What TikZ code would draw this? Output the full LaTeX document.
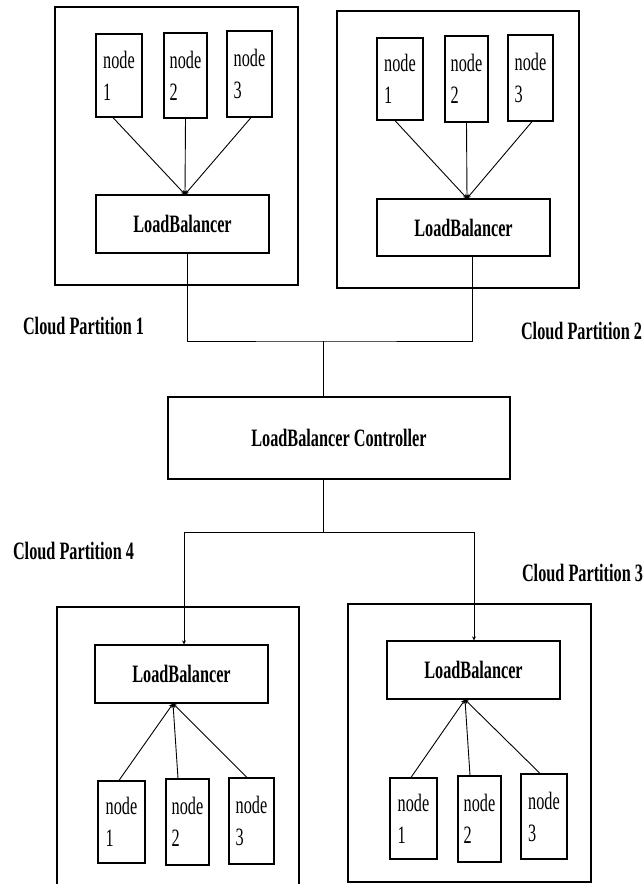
\documentclass[tikz,border=0pt]{standalone}
\usepackage{fontspec}
\setmainfont{Liberation Serif}[FakeStretch=0.65]
\usetikzlibrary{arrows.meta}
\tikzset{
  part/.style={draw, line width=1.2pt, inner sep=0pt},
  srv/.style={draw, line width=1.2pt, inner sep=0pt, align=left, font=\fontsize{25}{32}\selectfont},
  lbbox/.style={draw, line width=1.2pt, inner sep=0pt, font=\bfseries\fontsize{25}{28}\selectfont},
  lbl/.style={font=\bfseries\fontsize{25}{28}\selectfont, inner sep=0pt},
  wire/.style={line width=0.9pt},
  link/.style={wire, -{Stealth[length=4pt,width=4pt]}},
}
\begin{document}
\begin{tikzpicture}[x=1pt, y=-1pt]
	\useasboundingbox (0,0) rectangle (644,884);
	
	% partitions
	\node[part, minimum width=243, minimum height=278] (pA) at (176.5,146) {};
	\node[part, minimum width=242, minimum height=277] (pB) at (458,149.5) {};
	\node[part, minimum width=242, minimum height=286] (pC) at (178,750) {};
	\node[part, minimum width=243, minimum height=278] (pD) at (469.5,743) {};
	
	% partition 1
	\node[srv, minimum width=46, minimum height=83] (nA1) at (119,75.5) {node\\1};
	\node[srv, minimum width=43, minimum height=85] (nA2) at (185.5,75.5) {node\\2};
	\node[srv, minimum width=45, minimum height=86] (nA3) at (249.5,74) {node\\3};
	\node[lbbox, minimum width=173, minimum height=58] (lbA) at (182.5,224) {LoadBalancer};
	
	% partition 2
	\node[srv, minimum width=46, minimum height=82] (nB1) at (400,79) {node\\1};
	\node[srv, minimum width=43, minimum height=86] (nB2) at (466.5,79) {node\\2};
	\node[srv, minimum width=45, minimum height=86] (nB3) at (530.5,78) {node\\3};
	\node[lbbox, minimum width=173, minimum height=57] (lbB) at (463.5,227.5) {LoadBalancer};
	
	% partition 4
	\node[lbbox, minimum width=173, minimum height=58] (lbC) at (181.5,674) {LoadBalancer};
	\node[srv, minimum width=47, minimum height=82] (nC1) at (121.5,822) {node\\1};
	\node[srv, minimum width=43, minimum height=86] (nC2) at (187.5,822) {node\\2};
	\node[srv, minimum width=45, minimum height=86] (nC3) at (251.5,821) {node\\3};
	
	% partition 3
	\node[lbbox, minimum width=173, minimum height=58] (lbD) at (473.5,670) {LoadBalancer};
	\node[srv, minimum width=47, minimum height=81] (nD1) at (413.5,818.5) {node\\1};
	\node[srv, minimum width=43, minimum height=86] (nD2) at (479.5,819) {node\\2};
	\node[srv, minimum width=46, minimum height=85] (nD3) at (544,816.5) {node\\3};
	
	\node[lbbox, minimum width=342, minimum height=82] (ctrl) at (339,438) {LoadBalancer Controller};
	
	\node[lbl] (cp1) at (83.5,326) {Cloud Partition 1};
	\node[lbl] (cp2) at (581.5,331) {Cloud Partition 2};
	\node[lbl] (cp4) at (73.5,551) {Cloud Partition 4};
	\node[lbl] (cp3) at (582.5,573) {Cloud Partition 3};
	
	% hubs
	\coordinate (hubA) at ([xshift=2.5pt]lbA.north);
	\coordinate (hubB) at ([xshift=3.5pt]lbB.north);
	\coordinate (hubC) at ([xshift=-8.5pt]lbC.south);
	\coordinate (hubD) at ([xshift=-8.5pt]lbD.south);
	\coordinate (jTop) at (323,341);
	\coordinate (jBot) at (323,532);
	
	\draw[link] ([xshift=-6pt]nA1.south) -- (hubA);
	\draw[link] (nA2.south) -- (hubA);
	\draw[link] ([xshift=1.5pt]nA3.south) -- (hubA);
	
	\draw[link] ([xshift=-5pt]nB1.south) -- (hubB);
	\draw[link] (nB2.south) -- (hubB);
	\draw[link] ([xshift=1.5pt]nB3.south) -- (hubB);
	
	\draw[link] ([xshift=-2.5pt]nC1.north) -- (hubC);
	\draw[link] ([xshift=-9.5pt]nC2.north) -- (hubC);
	\draw[link] ([xshift=-4.5pt]nC3.north) -- (hubC);
	
	\draw[link] ([xshift=-2.5pt]nD1.north) -- (hubD);
	\draw[link] ([xshift=-9.5pt]nD2.north) -- (hubD);
	\draw[link] ([xshift=-4pt]nD3.north) -- (hubD);
	
	\draw[wire] ([xshift=4.5pt]lbA.south) |- (jTop) -| ([xshift=8.5pt]lbB.south);
	\draw[wire] (jTop) -- (jTop |- ctrl.north);
	\draw[wire] (jTop |- ctrl.south) -- (jBot);
	\draw[link] (jBot) -| ([xshift=2.5pt]lbC.north);
	\draw[link] (jBot) -| ([xshift=0.5pt]lbD.north);
	
\end{tikzpicture}
\end{document}
